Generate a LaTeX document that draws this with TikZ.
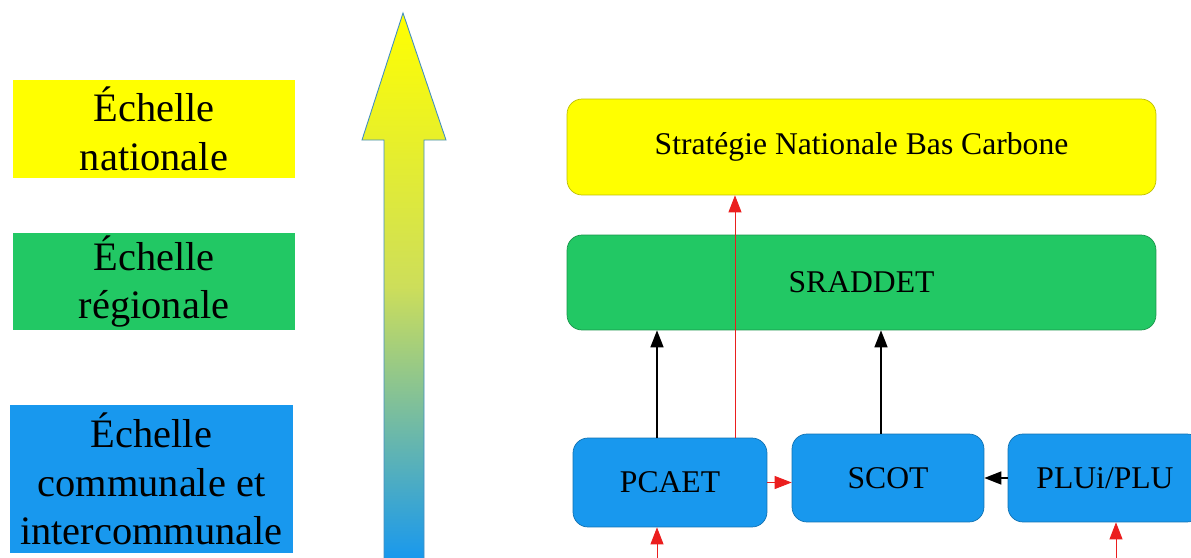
\documentclass[tikz,border=0pt]{standalone}
\usepackage{fontspec}
\setmainfont{Liberation Serif}
\usepackage{xcolor}
\usetikzlibrary{positioning,arrows.meta}

\definecolor{nat_yellow}{RGB}{255,255,0}
\definecolor{reg_green}{RGB}{34,200,100}
\definecolor{loc_blue}{RGB}{24,152,238}
\definecolor{link_red}{RGB}{235,30,30}
\definecolor{mid_green}{RGB}{205,222,90}

\tikzset{
  scale_box/.style={fill=#1, inner sep=0pt, minimum width=5.64cm, align=center,
    font=\fontsize{23}{27.6}\selectfont},
  plan_box/.style={draw=#1!75!black, fill=#1, rounded corners=0.3cm, inner sep=0pt,
    font=\fontsize{18}{21}\selectfont},
  link_black/.style={draw=black, line width=0.9pt, -{Triangle[width=0.26cm, length=0.34cm]}},
  link_red/.style={draw=link_red, line width=0.5pt, -{Triangle[width=0.26cm, length=0.34cm, fill=link_red]}}
}

\begin{document}
\begin{tikzpicture}[x=0.02cm, y=-0.02cm]
\useasboundingbox (0,0) rectangle (1191,558);

% scales on the left
\node[scale_box=nat_yellow, minimum height=1.96cm] (scale_national) at (154,129) {Échelle\\nationale};
\node[scale_box=reg_green, minimum height=1.94cm] (scale_regional) at (154,281.5) {Échelle\\régionale};
\node[scale_box=loc_blue, minimum height=2.96cm, minimum width=5.66cm] (scale_local) at (151.5,479) {Échelle\\communale et\\intercommunale};

% big arrow
\shade[top color=nat_yellow, bottom color=loc_blue, middle color=mid_green,
       draw=loc_blue!60!gray, line width=0.5pt]
  (403,13) -- (446,140) -- (424,140) -- (424,560) -- (384,560) -- (384,140) -- (362,140) -- cycle;

% plans
\node[plan_box=nat_yellow, minimum width=11.78cm, minimum height=1.92cm] (plan_snbc) at (861.5,147) {Stratégie Nationale Bas Carbone};
\node[plan_box=reg_green, minimum width=11.78cm, minimum height=1.9cm] (plan_sraddet) at (861.5,282.5) {SRADDET};
\node[plan_box=loc_blue, minimum width=3.88cm, minimum height=1.78cm] (plan_pcaet) at (670,482.5) {PCAET};
\node[plan_box=loc_blue, minimum width=3.84cm, minimum height=1.76cm] (plan_scot) at (888,478) {SCOT};
\node[plan_box=loc_blue, minimum width=3.88cm, minimum height=1.76cm] (plan_plu) at (1105,478) {PLUi/PLU};

\coordinate (src_pcaet) at (657,560);
\coordinate (src_plu) at (1116,560);

% links
\draw[link_black] ([xshift=-0.26cm]plan_pcaet.north) -- ([xshift=-0.26cm]plan_pcaet.north |- plan_sraddet.south);
\draw[link_black] ([xshift=-0.14cm]plan_scot.north) -- ([xshift=-0.14cm]plan_scot.north |- plan_sraddet.south);
\draw[link_red] ([xshift=1.3cm]plan_pcaet.north) -- ([xshift=1.3cm]plan_pcaet.north |- plan_snbc.south);
\draw[link_red] (plan_pcaet.east) -- (plan_pcaet.east -| plan_scot.west);
\draw[link_black] (plan_plu.west) -- (plan_scot.east);
\draw[link_red] (src_pcaet) -- (src_pcaet |- plan_pcaet.south);
\draw[link_red] (src_plu) -- (src_plu |- plan_plu.south);

\end{tikzpicture}
\end{document}
